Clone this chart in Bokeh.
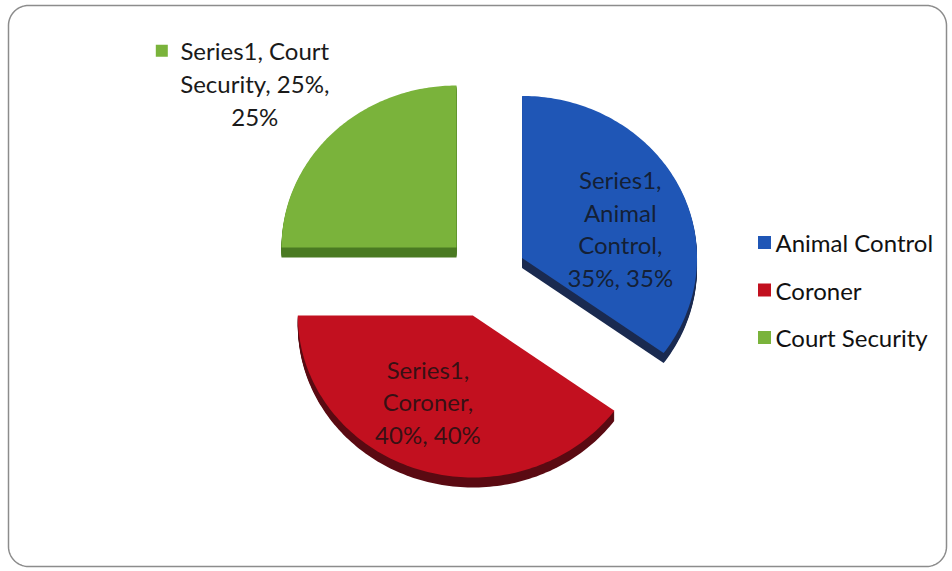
import textwrap
import numpy as np
from bokeh.plotting import figure
from bokeh.models import Range1d, ColumnDataSource
from bokeh.core.properties import value
from bokeh.embed import file_html
from bokeh.resources import INLINE

# ---- data ----
categories = ["Animal Control", "Coroner", "Court Security"]
percent = [35, 40, 25]
series_name = "Series1"

# ---- style ----
top_colors = ["#1f56b6", "#c2101f", "#7ab33b"]
side_colors = ["#1a2a50", "#5a0a12", "#4a7a22"]
label_inside = [True, True, False]
label_wrap = [9, 9, 15]
label_fx = [0.63, 0.83, 1.63]
label_fy = [0.40, 0.56, 1.43]

W, H = 952, 571
CX, CY = 485, 276      # pie centre (px)
RX, RY = 175, 162      # ellipse radii (px)
EXPLODE = 41
DEPTH = 10
FONT = "Lato"
LINE_H = 1.13

p = figure(width=W, height=H, x_range=Range1d(0, W), y_range=Range1d(H, 0),
           x_axis_type=None, y_axis_type=None, output_backend="svg",
           toolbar_location=None, min_border=0)
p.grid.visible = False
p.outline_line_color = None
p.background_fill_color = "white"
p.border_fill_color = "white"

# rounded frame
fx0, fy0, fx1, fy1, fr = 8, 5, 946, 566, 20
def arc(cx, cy, a0, a1):
    t = np.linspace(a0, a1, 20)
    return cx + fr * np.cos(t), cy + fr * np.sin(t)
parts = [arc(fx1 - fr, fy0 + fr, -np.pi / 2, 0), arc(fx1 - fr, fy1 - fr, 0, np.pi / 2),
         arc(fx0 + fr, fy1 - fr, np.pi / 2, np.pi), arc(fx0 + fr, fy0 + fr, np.pi, 1.5 * np.pi)]
bx = np.concatenate([a[0] for a in parts] + [parts[0][0][:1]])
by = np.concatenate([a[1] for a in parts] + [parts[0][1][:1]])
p.line(bx, by, line_color="#8c8c8c", line_width=1.5)

# ---- pie slices ----
total = float(sum(percent))
cum = 0.0
side_xs, side_ys, side_c = [], [], []
top_xs, top_ys = [], []
lab_x, lab_y, lab_t = [], [], []
out_x, out_y, out_t = [], [], []
key_x, key_y, key_c = [], [], []
for i, v in enumerate(percent):
    a0 = cum / total * 2 * np.pi
    a1 = (cum + v) / total * 2 * np.pi
    cum += v
    mid = (a0 + a1) / 2
    cx = CX + EXPLODE * np.sin(mid)
    cy = CY - EXPLODE * np.cos(mid)
    t = np.linspace(a0, a1, 120)
    xs = np.concatenate([[cx], cx + RX * np.sin(t)])
    ys = np.concatenate([[cy], cy - RY * np.cos(t)])
    for d in range(1, DEPTH + 1):
        side_xs.append(xs)
        side_ys.append(ys + d)
        side_c.append(side_colors[i])
    top_xs.append(xs)
    top_ys.append(ys)
    text = "\n".join(textwrap.wrap(f"{series_name}, {categories[i]}, {v}%, {v}%", label_wrap[i]))
    lx = cx + RX * label_fx[i] * np.sin(mid)
    ly = cy - RY * label_fy[i] * np.cos(mid)
    if label_inside[i]:
        lab_x.append(lx); lab_y.append(ly); lab_t.append(text)
    else:
        out_x.append(lx); out_y.append(ly); out_t.append(text)
        nlines = text.count("\n") + 1
        key_x.append(lx - 93); key_y.append(ly - (nlines - 1) / 2 * 33); key_c.append(top_colors[i])

p.patches(side_xs, side_ys, fill_color=side_c, line_color=None)
p.patches(top_xs, top_ys, fill_color=top_colors, line_color=None)

p.text(lab_x, lab_y, text=lab_t, text_align="center", text_baseline="middle",
       text_font=value(FONT), text_font_size="24px", text_line_height=LINE_H,
       text_color="#111111", text_alpha=0.8)
p.text(out_x, out_y, text=out_t, text_align="center", text_baseline="middle",
       text_font=value(FONT), text_font_size="24px", text_line_height=LINE_H,
       text_color="#1a1a1a")
p.scatter(key_x, key_y, marker="square", size=12, fill_color=key_c, line_color=None)

# ---- legend ----
LX, LY0, LDY = 764, 242, 47.5
leg = ColumnDataSource(dict(
    x=[LX] * len(categories),
    y=[LY0 + i * LDY for i in range(len(categories))],
    tx=[LX + 11] * len(categories),
    label=categories,
    color=top_colors,
))
p.scatter("x", "y", source=leg, marker="square", size=13, fill_color="color", line_color=None)
p.text("tx", "y", text="label", source=leg, text_align="left", text_baseline="middle",
       text_font=value(FONT), text_font_size="24px", text_color="#111111")

open("out.html", "w").write(file_html(p, INLINE))
